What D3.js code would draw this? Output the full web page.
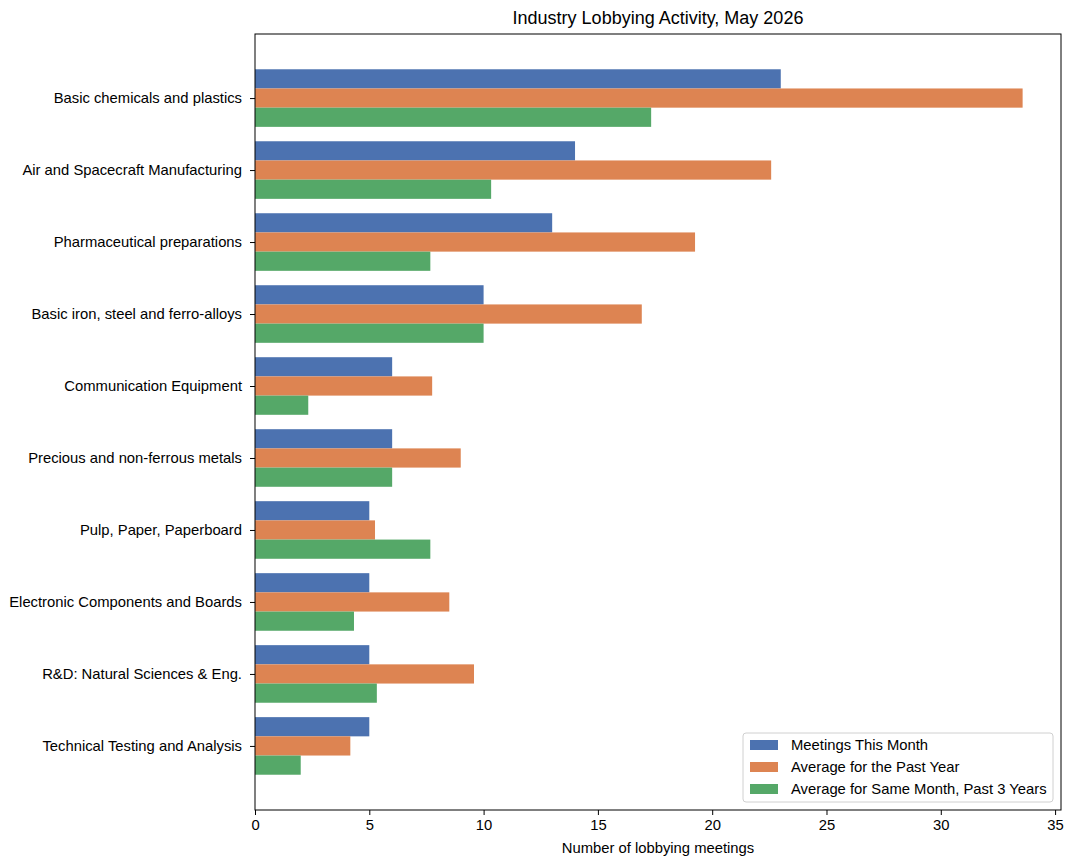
<!DOCTYPE html>
<html lang="en">
<head>
<meta charset="UTF-8">
<title>Industry Lobbying Activity</title>
<script src="https://d3js.org/d3.v7.min.js"></script>
<style>
    body { margin: 0; background: #fff; }
    svg text { font-family: "Liberation Sans", Arial, sans-serif; fill: #000; }
</style>
</head>
<body>
<svg class="chart"></svg>
<script>
    const categories = [
        'Basic chemicals and plastics',
        'Air and Spacecraft Manufacturing',
        'Pharmaceutical preparations',
        'Basic iron, steel and ferro-alloys',
        'Communication Equipment',
        'Precious and non-ferrous metals',
        'Pulp, Paper, Paperboard',
        'Electronic Components and Boards',
        'R&D: Natural Sciences & Eng.',
        'Technical Testing and Analysis'
    ]
    const meetingsThisMonth = [23, 14, 13, 10, 6, 6, 5, 5, 5, 5]
    const avgPastYear = [33.58, 22.58, 19.25, 16.92, 7.75, 9.0, 5.25, 8.5, 9.58, 4.17]
    const avgSameMonth3y = [17.33, 10.33, 7.67, 10.0, 2.33, 6.0, 7.67, 4.33, 5.33, 2.0]
    const seriesNames = ['Meetings This Month', 'Average for the Past Year', 'Average for Same Month, Past 3 Years']
    const colors = ['#4c72b0', '#dd8452', '#55a868']
    const xTicks = [0, 5, 10, 15, 20, 25, 30, 35]

    const W = 1074, H = 868
    const plotL = 255, plotR = 1061, plotT = 34, plotB = 810
    const fs = 14.8
    const svg = d3.select('.chart').attr('width', W).attr('height', H)

    const series = [meetingsThisMonth, avgPastYear, avgSameMonth3y]
    const barH = 0.8 / 3
    const maxVal = d3.max(series.flat())

    const x = d3.scaleLinear().domain([0, maxVal * 1.05]).range([plotL, plotR])
    // matplotlib style margins around bar extents, first category on top
    const lo = -0.4, hi = categories.length - 1 + 0.4
    const pad = (hi - lo) * 0.05
    const y = d3.scaleLinear().domain([lo - pad, hi + pad]).range([plotT, plotB])

    const g = svg.append('g')
    series.forEach((vals, s) => {
        g.selectAll('rect.s' + s)
            .data(vals)
            .join('rect')
            .attr('class', 's' + s)
            .attr('x', x(0))
            .attr('y', (d, i) => y(i - 0.4 + s * barH))
            .attr('width', d => x(d) - x(0))
            .attr('height', y(barH) - y(0))
            .attr('fill', colors[s])
    })

    // frame
    svg.append('rect')
        .attr('x', plotL).attr('y', plotT)
        .attr('width', plotR - plotL).attr('height', plotB - plotT)
        .attr('fill', 'none').attr('stroke', '#000').attr('stroke-width', 1)

    const xAxis = svg.append('g')
        .attr('transform', `translate(0,${plotB})`)
        .call(d3.axisBottom(x).tickValues(xTicks).tickSize(5).tickPadding(4))
    xAxis.select('.domain').remove()
    xAxis.selectAll('text').attr('font-size', fs)

    const yAxis = svg.append('g')
        .attr('transform', `translate(${plotL},0)`)
        .call(d3.axisLeft(y).tickValues(d3.range(categories.length))
            .tickFormat(i => categories[i]).tickSize(5).tickPadding(8))
    yAxis.select('.domain').remove()
    yAxis.selectAll('text').attr('font-size', fs)

    svg.append('text')
        .attr('x', (plotL + plotR) / 2).attr('y', 853)
        .attr('text-anchor', 'middle').attr('font-size', fs)
        .text('Number of lobbying meetings')

    svg.append('text')
        .attr('x', (plotL + plotR) / 2).attr('y', 24)
        .attr('text-anchor', 'middle').attr('font-size', 18)
        .text('Industry Lobbying Activity, May 2026')

    // legend
    const lg = svg.append('g').attr('transform', 'translate(743,733)')
    lg.append('rect')
        .attr('width', 310).attr('height', 69).attr('rx', 3)
        .attr('fill', '#fff').attr('fill-opacity', 0.8)
        .attr('stroke', '#d0d0d0')
    seriesNames.forEach((name, s) => {
        const row = lg.append('g').attr('transform', `translate(0,${12 + s * 22})`)
        row.append('rect').attr('x', 7).attr('y', -5).attr('width', 28).attr('height', 10)
            .attr('fill', colors[s])
        row.append('text').attr('x', 48).attr('y', 5).attr('font-size', fs).text(name)
    })
</script>
</body>
</html>
